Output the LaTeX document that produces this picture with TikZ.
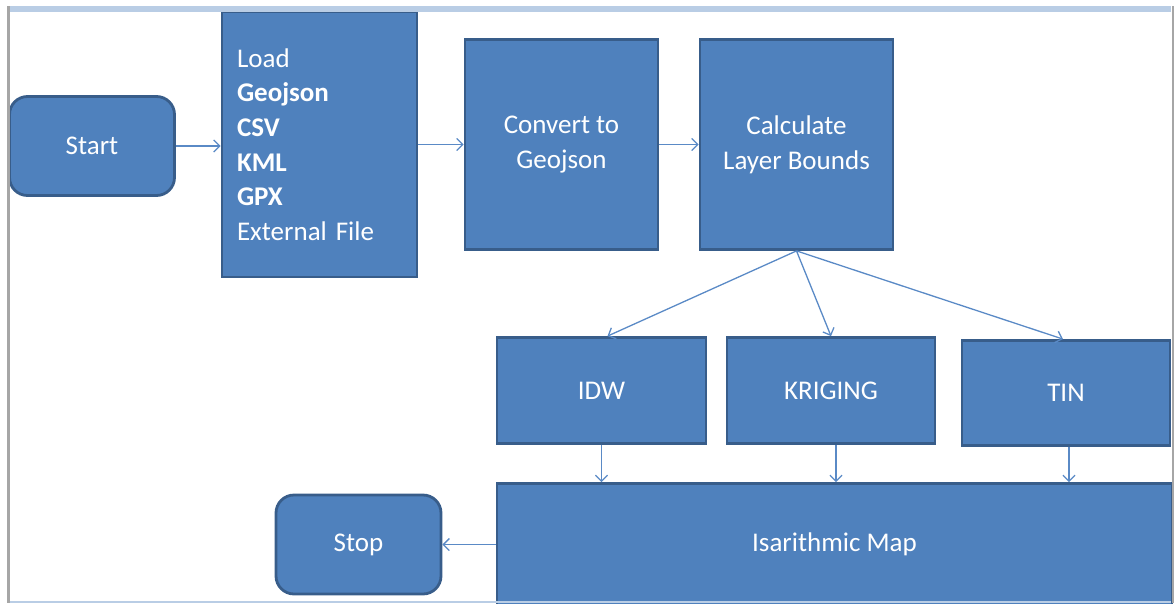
\documentclass[tikz,border=0pt]{standalone}
\usepackage{fontspec}
\setmainfont{Carlito}
\usepackage{tikz}
\usetikzlibrary{positioning}
\usetikzlibrary{arrows.meta}

\definecolor{boxfill}{HTML}{4F81BD}
\definecolor{boxline}{HTML}{385D8A}
\definecolor{arrowline}{HTML}{5A8AC6}
\definecolor{frametop}{HTML}{B9CDE5}
\definecolor{frameside}{HTML}{A6A6A6}

\tikzset{
  stepbox/.style={draw=boxline, fill=boxfill, line width=2.8pt, text=white,
    font=\fontsize{27}{34.6}\selectfont, align=center, inner sep=0pt},
  terminal/.style={stepbox, rounded corners=18pt, minimum width=165pt, minimum height=99pt},
  flow/.style={->, draw=arrowline, line width=1.3pt},
}

\begin{document}
\begin{tikzpicture}[x=1pt,y=-1pt,node distance=2cm,on grid,>={Straight Barb[length=6pt,width=12pt]}]
   \clip (0,0) rectangle (1176,603);
   \node[terminal] (start) at (92,146) {Start};
   \node[stepbox, minimum width=195pt, minimum height=265pt, text width=165pt,
         align=left] (load) [above right=1.5pt and 227.5pt of start]
     {Load\\\textbf{Geojson}\\\textbf{CSV}\\\textbf{KML}\\\textbf{GPX}\\External File};
   \node[stepbox, minimum width=193pt, minimum height=210pt] (convert) [right=242pt of load] {Convert to\\Geojson};
   \node[stepbox, minimum width=193pt, minimum height=210pt] (bounds) [right=235pt of convert] {Calculate\\Layer Bounds};
   \node[stepbox, minimum width=209pt, minimum height=106pt] (idw) [below left=246pt and 195pt of bounds] {IDW};
   \node[stepbox, minimum width=208pt, minimum height=106pt] (kriging) [right=229.5pt of idw] {KRIGING};
   \node[stepbox, minimum width=208pt, minimum height=105pt] (tin) [below right=248.5pt and 269.5pt of bounds] {TIN};
   \node[stepbox, minimum width=675pt, minimum height=122pt] (isomap) [below right=400pt and 38pt of bounds] {Isarithmic Map};
   \node[terminal] (stop) [left=476pt of isomap] {Stop};
   % page frame
   \fill[frametop] (8,6) rectangle (1171,12);
   \fill[frametop] (9,601) rectangle (1171,603);
   \fill[frameside] (7,6) rectangle (9.5,603);
   \fill[frameside] (1171.5,6) rectangle (1174,603);
   % connectors
   \draw[flow] (start) -- (start -| load.west);
   \draw[flow] (load.east |- convert) -- (convert);
   \draw[flow] (convert) -- (bounds);
   \draw[flow] (bounds.south) -- ([xshift=6pt]idw.north);
   \draw[flow] (bounds.south) -- (kriging.north);
   \draw[flow] (bounds.south) -- ([xshift=-3pt]tin.north);
   \draw[flow] (idw.south) -- (idw.south |- isomap.north);
   \draw[flow] ([xshift=5pt]kriging.south) -- ([xshift=5pt]kriging.south |- isomap.north);
   \draw[flow] ([xshift=3pt]tin.south) -- ([xshift=3pt]tin.south |- isomap.north);
   \draw[flow] (isomap.west |- stop.east) -- (stop.east);
\end{tikzpicture}
\end{document}
